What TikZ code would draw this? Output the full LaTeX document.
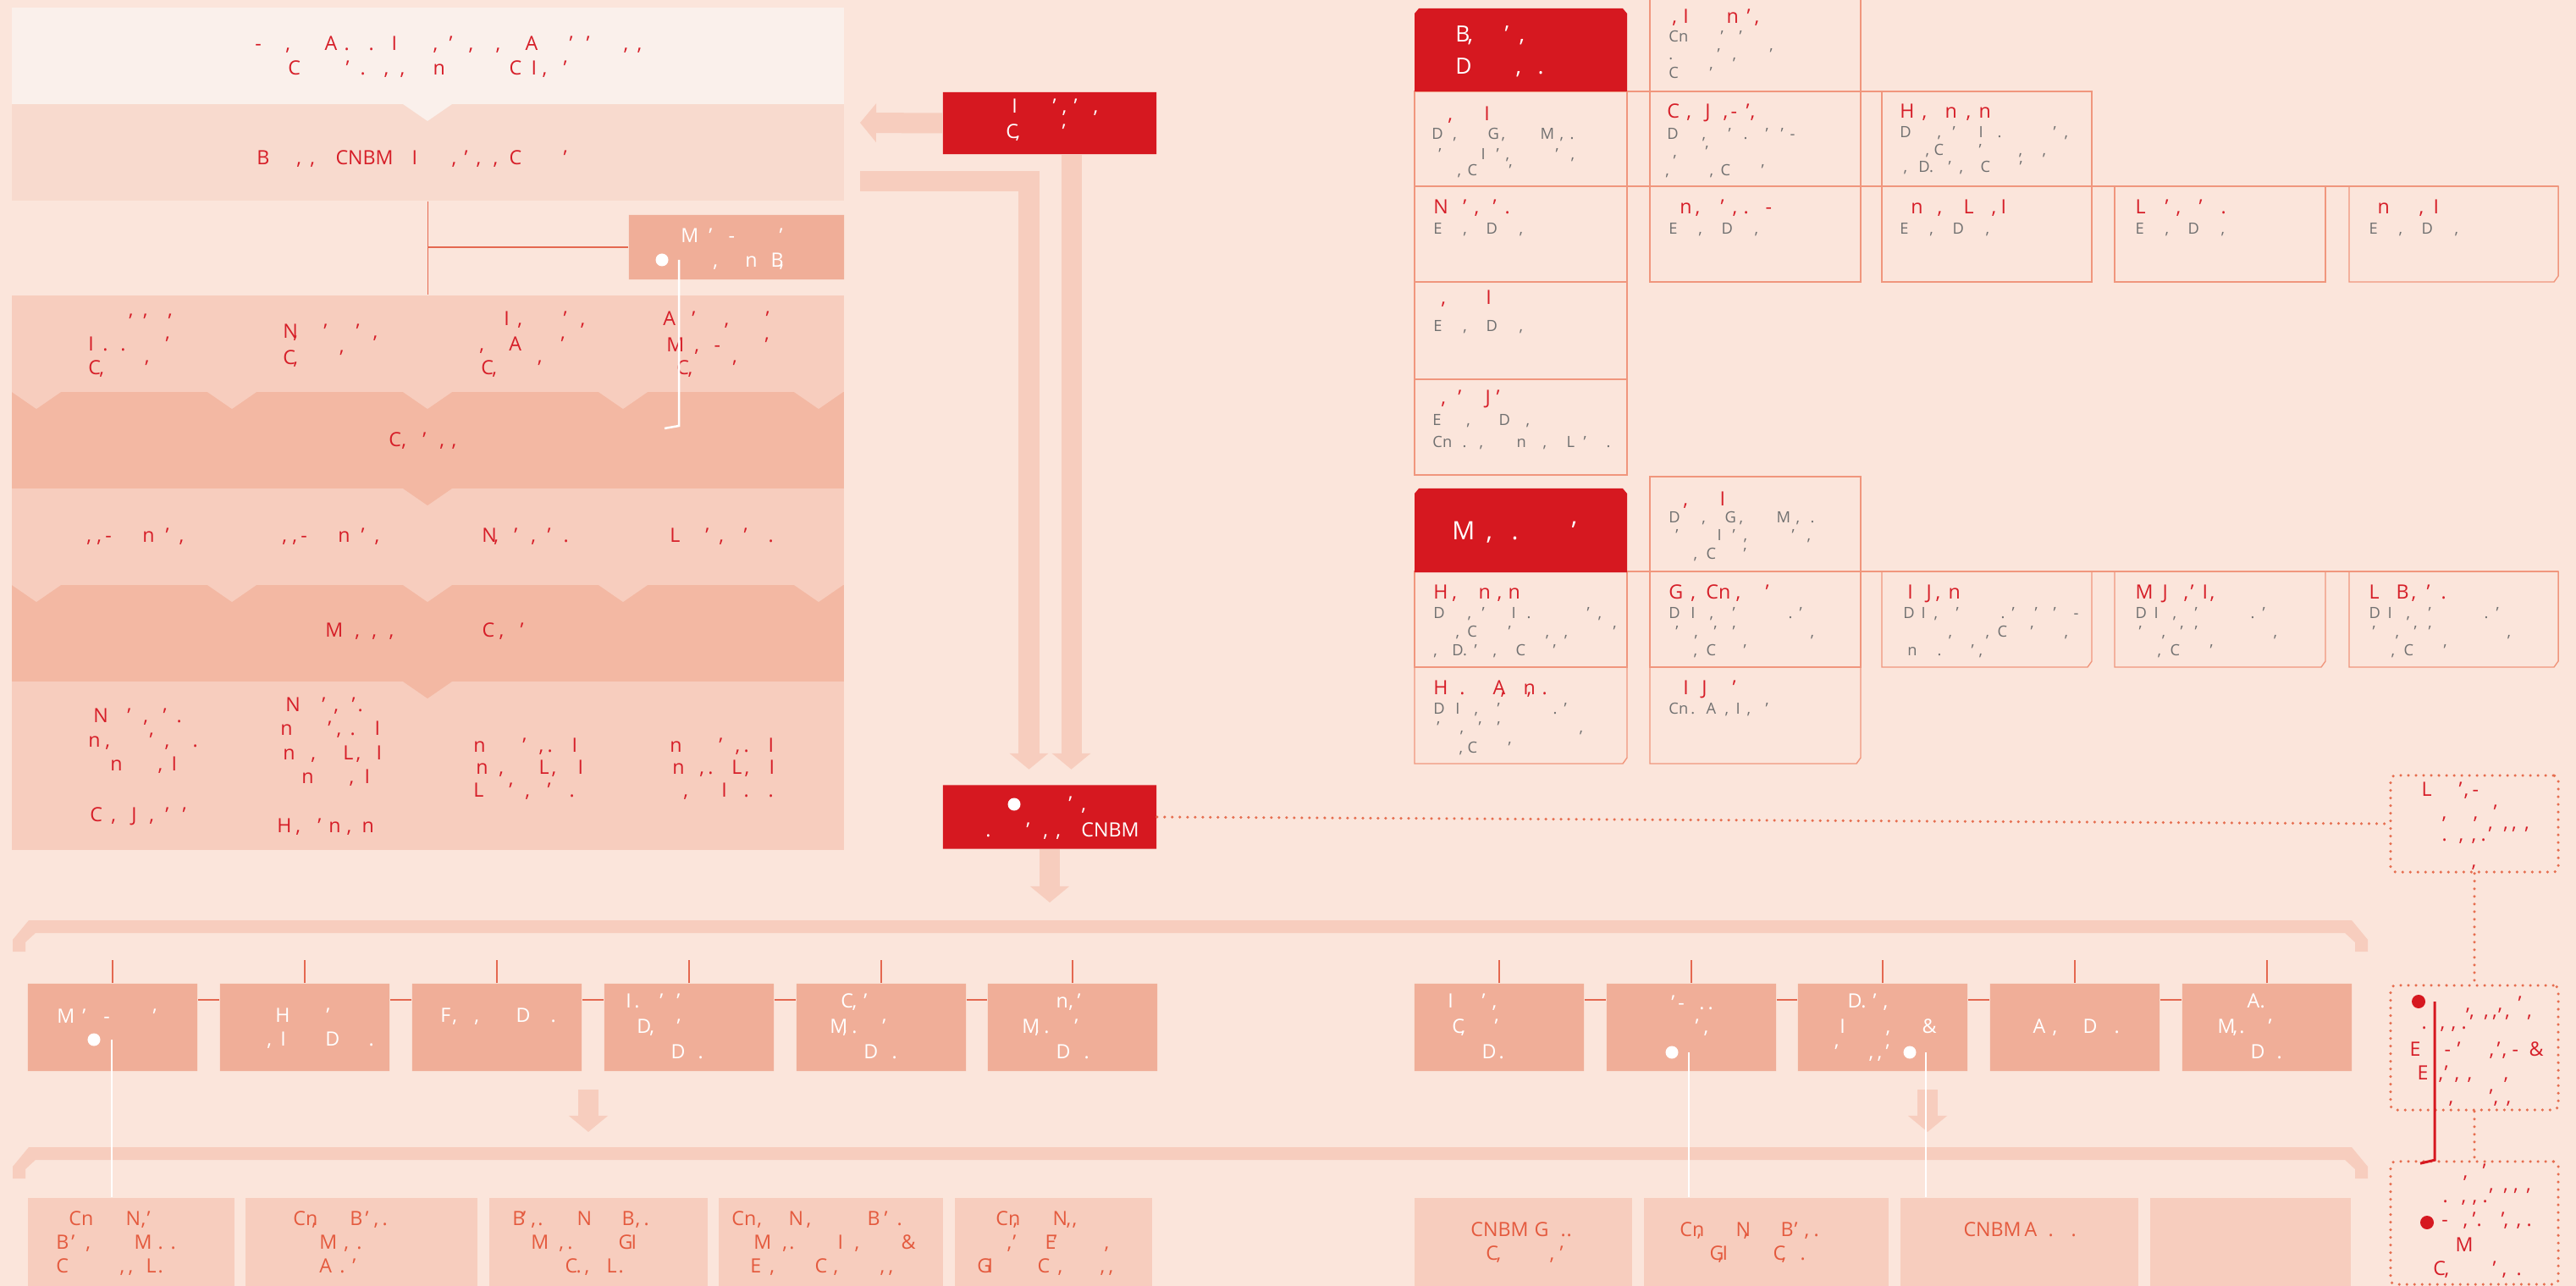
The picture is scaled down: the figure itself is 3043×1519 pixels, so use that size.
\documentclass[tikz,border=0pt]{standalone}
\usepackage{fontspec}
\setmainfont{Open Sans}
\usetikzlibrary{arrows.meta,shapes.misc}

\definecolor{bgC}{RGB}{251,229,219}
\definecolor{bandA}{RGB}{250,240,235}
\definecolor{bandB}{RGB}{248,218,206}
\definecolor{bandL}{RGB}{247,205,190}
\definecolor{bandD}{RGB}{243,184,163}
\definecolor{boxS}{RGB}{240,174,152}
\definecolor{redC}{RGB}{214,24,32}
\definecolor{redT}{RGB}{214,30,40}
\definecolor{grayT}{RGB}{112,112,112}
\definecolor{salT}{RGB}{228,90,62}
\definecolor{tickC}{RGB}{228,104,80}
\definecolor{gridC}{RGB}{240,150,125}
\definecolor{dotC}{RGB}{230,110,80}

% text fragments placed at (dx,dy) from the node origin, in cm
\newcommand\cma{,}
\newcommand\frg[3]{\unskip\makebox[0pt][l]{\hspace{#1cm}\raisebox{-#2cm}[0pt][0pt]{#3}}\ignorespaces}
\newcommand\fline[2]{\foreach \fx/\ft in {#2}{\frg{\fx}{#1}{\ft}}}

\tikzset{
  band/.style={rectangle, fill=#1, draw=none, minimum width=9.83cm, inner sep=0pt},
  sbox/.style={chamfered rectangle, chamfered rectangle sep=0.05cm, fill=boxS, draw=none,
    minimum width=2cm, minimum height=1.03cm, inner sep=0pt},
  lbox/.style={rectangle, fill=bandL, draw=none, minimum height=1.15cm, inner sep=0pt},
  rbox/.style={chamfered rectangle, chamfered rectangle sep=0.05cm, fill=redC, draw=none,
    minimum width=2.52cm, minimum height=0.73cm, inner sep=0pt},
  dotl/.style={draw=dotC, line width=0.035cm, dash pattern=on 0pt off 0.09cm, line cap=round},
  dbox/.style={rectangle, rounded corners=0.06cm, dotl, minimum width=1.98cm, inner sep=0pt},
  tick/.style={draw=tickC, line width=0.012cm},
  gline/.style={draw=gridC, line width=0.014cm},
  fat/.style={draw=bandL, line width=0.24cm, -{Triangle[width=0.45cm,length=0.19cm]}},
  wline/.style={draw=white, line width=0.025cm},
  rline/.style={draw=redC, line width=0.03cm},
  wdot/.style={circle, fill=white, minimum size=0.15cm, inner sep=0pt},
  rdot/.style={circle, fill=redC, minimum size=0.16cm, inner sep=0pt},
  frag/.style={inner sep=0pt, anchor=base west},
  rtx/.style={frag, text=redT, font=\fontsize{6.6}{8}\selectfont},
  gtx/.style={frag, text=grayT, font=\fontsize{5.2}{6}\selectfont},
  wtx/.style={frag, text=white, font=\fontsize{6.6}{8}\selectfont},
  stx/.style={frag, text=salT, font=\fontsize{6.6}{8}\selectfont},
  htx/.style={frag, text=white, font=\fontsize{7.5}{9}\selectfont},
}

\begin{document}
\begin{tikzpicture}[x=0.01cm, y=-0.01cm]
  \useasboundingbox (0,0) rectangle (3043,1519);
  \fill[bgC] (0,0) rectangle (3043,1519);

  % left panel
  \node[band=bandA, minimum height=1.14cm] (p1) at (505.5,66) {};
  \node[band=bandB, minimum height=1.14cm] (p2) at (505.5,180) {};
  \node[band=bandL, minimum height=1.14cm] (p3) at (505.5,406) {};
  \node[band=bandD, minimum height=1.14cm] (p4) at (505.5,520) {};
  \node[band=bandL, minimum height=1.14cm] (p5) at (505.5,634) {};
  \node[band=bandD, minimum height=1.14cm] (p6) at (505.5,748) {};
  \node[band=bandL, minimum height=1.99cm] (p7) at (505.5,904.5) {};
  \fill[bandA] (476,123) -- (534,123) -- (505,143) -- cycle;
  \foreach \x in {43,274,505,736,967} {
    \fill[bandL] (\x-29,463) -- (\x+29,463) -- (\x,483) -- cycle;
    \fill[bandL] (\x-29,691) -- (\x+29,691) -- (\x,711) -- cycle;
  }
  \fill[bandD] (476,577) -- (534,577) -- (505,597) -- cycle;
  \fill[bandD] (476,805) -- (534,805) -- (505,825) -- cycle;

  \node[sbox, minimum width=2.54cm, minimum height=0.76cm] (mbox) at (870,292) {};
  \draw[tick] (p2.south) -- (p3.north);
  \draw[tick] (p2.south |- mbox.west) -- (mbox.west);

  \node[rtx] (t1) at (298,60) {\fline{0}{0.01/-,0.37/\cma,0.83/A,1.06/.,1.35/.,1.62/I,2.11/\cma,2.30/',2.53/\cma,2.85/\cma,3.20/A,3.72/',3.92/',4.36/\cma,4.52/\cma}\fline{0.28}{0.40/C,1.08/',1.25/.,1.53/\cma,1.72/\cma,2.11/n,3.01/C,3.27/I,3.40/\cma,3.65/'}};
  \node[rtx] (t2) at (301,195) {\fline{0}{0/B,0.47/\cma,0.63/\cma,0.93/CNBM,1.83/I,2.30/\cma,2.45/',2.59/\cma,2.79/\cma,2.98/C,3.62/'}};
  \node[wtx] (mt) at (802,287) {\fline{0}{0/M,0.33/',0.56/-,1.16/'}\fline{0.28}{0.38/\cma,0.76/n,1.06/B,1.16/\cma}};
  \node[wdot] (mdot) at (782,307) {};
  \node[rtx] (c31) at (102,415) {\fline{-0.27}{0.48/',0.65/',0.94/'}\fline{0}{0/I,0.17/.,0.38/.,0.91/'}\fline{0.27}{0/C,0.13/\cma,0.67/'}};
  \node[rtx] (c32) at (332,400) {\fline{0}{0/N,0.12/\cma,0.48/',0.86/',1.06/\cma}\fline{0.30}{0/C,0.12/\cma,0.67/'}};
  \node[rtx] (c33) at (566,415) {\fline{-0.30}{0.27/I,0.43/\cma,0.97/',1.17/\cma}\fline{0}{-0.02/\cma,0.33/A,0.94/'}\fline{0.27}{0/C,0.13/\cma,0.67/'}};
  \node[rtx] (c34) at (781,385) {\fline{0}{0/A,0.34/',0.72/\cma,1.21/'}\fline{0.30}{0.04/M,0.37/\cma,0.60/-,1.20/'}\fline{0.57}{0.16/C,0.29/\cma,0.82/'}};
  \node[rtx] (c4) at (457,528) {\fline{0}{0/C,0.15/\cma,0.40/',0.60/\cma,0.74/\cma}};
  \foreach \x/\n in {100/c51,331/c52}
    \node[rtx] (\n) at (\x,640) {\fline{0}{0/\cma,0.12/\cma,0.22/-,0.66/n,0.93/',1.09/\cma}};
  \node[rtx] (c53) at (567,640) {\fline{0}{0/N,0.14/\cma,0.38/',0.58/\cma,0.77/',0.96/.}};
  \node[rtx] (c54) at (789,640) {\fline{0}{0/L,0.42/',0.58/\cma,0.87/',1.16/.}};
  \node[rtx] (c6) at (382,752) {\fline{0}{0/M,0.35/\cma,0.55/\cma,0.75/\cma,1.85/C,2.05/\cma,2.30/'}};
  \node[rtx] (c71) at (104,853) {\fline{0}{0.04/N,0.44/',0.63/\cma,0.86/',1.02/.}\fline{0.29}{-0.02/n,0.18/\cma,0.70/',0.88/\cma,1.21/.}\fline{0.57}{0.24/n,0.80/\cma,0.96/I}\fline{1.17}{0/C,0.25/\cma,0.49/J,0.70/\cma,0.89/',1.09/'}};
  \node[rtx] (c72) at (325,840) {\fline{0}{0.10/N,0.53/',0.67/\cma,0.88/',0.95/.}\fline{0.28}{0.04/n,0.60/',0.70/\cma,0.86/.,1.15/I}\fline{0.57}{0.07/n,0.40/\cma,0.78/L,0.93/\cma,1.17/I}\fline{0.85}{0.29/n,0.85/\cma,1.03/I}\fline{1.43}{0/H,0.22/\cma,0.48/',0.61/n,0.82/\cma,1.00/n}};
  \node[rtx] (c73) at (557,888) {\fline{0}{0/n,0.58/',0.77/\cma,0.87/.,1.16/I}\fline{0.26}{0.03/n,0.30/\cma,0.77/L,0.92/\cma,1.23/I}\fline{0.53}{0/L,0.42/',0.61/\cma,0.87/',1.13/.}};
  \node[rtx] (c74) at (789,888) {\fline{0}{0/n,0.58/',0.77/\cma,0.87/.,1.16/I}\fline{0.26}{0.03/n,0.35/\cma,0.45/.,0.73/L,0.88/\cma,1.17/I}\fline{0.53}{0.16/\cma,0.61/I,0.87/.,1.16/.}};

  % middle column
  \node[rbox] (rtop) at (1240,145.5) {};
  \node[rbox, minimum height=0.75cm] (rbot) at (1240,965) {};
  \coordinate (pin) at (1016,145);
  \coordinate (pout) at (1016,214);
  \coordinate (rdown) at (1240,1066);
  \draw[fat] (rtop.west) -- (pin);
  \draw[fat, shorten >=0.18cm] (pout) -| ([xshift=-0.245cm]rbot.north);
  \draw[fat, shorten >=0.18cm] ([xshift=0.255cm]rtop.south) -- ([xshift=0.255cm]rbot.north);
  \draw[fat] (rbot.south) -- (rdown);
  \node[wtx] (rtt) at (1186,164) {\fline{-0.30}{0.07/I,0.55/',0.66/\cma,0.80/',1.03/\cma}\fline{0}{0/C,0.11/\cma,0.66/'}};
  \node[wdot] (bdot) at (1198,950) {};
  \node[wtx] (rbt) at (1275,988) {\fline{-0.30}{-0.15/',0.0/\cma}\fline{0}{-1.13/.,-0.65/',-0.45/\cma,-0.30/\cma,0/CNBM}};

  % right grid, first block
  \draw[gline] (1949,-5) rectangle (2198,108);
  \draw[gline] (1671,108) -- (2471,108);
  \draw[gline] (1671,220) -- (3022,220);
  \foreach \xa/\xb in {1671/1922,1949/2198,2223/2471}
    \draw[gline] (\xa,108) rectangle (\xb,220);
  \foreach \xa/\xb in {1671/1922,1949/2198,2223/2471,2498/2747}
    \draw[gline] (\xa,220) rectangle (\xb,333);
  \draw[gline] (2775,220) -- (3022,220) -- (3022,326) -- (3017,333) -- (2775,333) -- cycle;
  \draw[gline] (1671,333) rectangle (1922,448);
  \draw[gline] (1671,448) rectangle (1922,561);
  \fill[redC] (1671,108) -- (1671,16) -- (1676,10) -- (1917,10) -- (1922,16) -- (1922,108) -- cycle;

  \node[htx] (h1t) at (1717,50) {\fline{0}{0/B,0.14/\cma,0.58/',0.75/\cma}\fline{0.37}{0/D,0.71/\cma,0.97/.}};
  \node[rtx] (g01r) at (1969,28) {\fline{0}{0.04/\cma,0.17/I,0.68/n,0.92/',1.01/\cma}};
  \node[gtx] (g01g) at (1969,50) {\fline{0}{0/Cn,0.61/',0.83/'}\fline{0.20}{0/.,0.57/',0.75/\cma,1.19/'}\fline{0.42}{0/C,0.48/'}};
  \node[rtx] (g10r) at (1708,143) {\fline{0}{0/\cma,0.43/I}};
  \node[gtx] (g10g) at (1689,165) {\fline{0}{0/D,0.25/\cma,0.66/G,0.82/\cma,1.28/M,1.51/\cma,1.63/.}\fline{0.23}{0.08/',0.58/I,0.76/',0.87/\cma,1.46/',1.64/\cma}\fline{0.42}{0.30/\cma,0.42/C,0.91/'}};
  \node[rtx] (g11r) at (1967,140) {\fline{0}{0/C,0.23/\cma,0.45/J,0.66/\cma,0.75/-,0.93/',0.98/\cma}};
  \node[gtx] (g11g) at (1967,165) {\fline{0}{0/D,0.41/\cma,0.72/',0.90/.,1.16/',1.34/',1.45/-}\fline{0.20}{0.07/\cma,0.45/'}\fline{0.42}{-0.02/\cma,0.50/\cma,0.63/C,1.11/'}};
  \node[rtx] (g12r) at (2242,140) {\fline{0}{0/H,0.26/\cma,0.53/n,0.78/\cma,0.93/n}};
  \node[gtx] (g12g) at (2242,163) {\fline{0}{0/D,0.44/\cma,0.62/',0.93/I,1.15/.,1.81/',1.94/\cma}\fline{0.20}{0.30/\cma,0.40/C,0.93/',1.40/\cma,1.68/\cma}\fline{0.40}{0.04/\cma,0.22/D.,0.57/',0.70/\cma,0.95/C,1.41/'}};
  \node[rtx] (g20r) at (1691,253) {\fline{0}{0/N,0.35/',0.48/\cma,0.70/',0.84/.}};
  \node[rtx] (g21r) at (1982,253) {\fline{0}{0/n,0.18/\cma,0.48/',0.62/\cma,0.75/.,1.01/-}};
  \node[rtx] (g22r) at (2255,253) {\fline{0}{0/n,0.31/\cma,0.62/L,0.95/\cma,1.06/I}};
  \node[rtx] (g23r) at (2520,253) {\fline{0}{0/L,0.35/',0.48/\cma,0.75/',1.01/.}};
  \node[rtx] (g24r) at (2806,253) {\fline{0}{0/n,0.49/\cma,0.66/I}};
  \foreach \x/\y/\n in {1691/277/g20g,1969/277/g21g,2242/277/g22g,2520/277/g23g,2796/277/g24g,1691/392/g30g}
    \node[gtx] (\n) at (\x,\y) {\fline{0}{0/E,0.35/\cma,0.62/D,1.01/\cma}};
  \node[rtx] (g30r) at (1700,360) {\fline{0}{0/\cma,0.53/I}};
  \node[rtx] (g40r) at (1700,478) {\fline{0}{0/\cma,0.20/',0.52/J,0.65/'}};
  \node[gtx] (g40g) at (1690,503) {\fline{0}{0/E,0.40/\cma,0.78/D,1.10/\cma}\fline{0.25}{0/Cn,0.35/.,0.55/\cma,0.99/n,1.30/\cma,1.58/L,1.78/',2.05/.}};

  % right grid, second block
  \draw[gline] (1949,563) rectangle (2198,675);
  \draw[gline] (1671,675) -- (3022,675);
  \foreach \xa/\xb in {1671/1922,1949/2198}
    \draw[gline] (\xa,675) rectangle (\xb,788);
  \foreach \xa/\xb in {2223/2471,2498/2747,2775/3022}
    \draw[gline] (\xa,675) -- (\xb,675) -- (\xb,781) -- (\xb-5,788) -- (\xa,788) -- cycle;
  \foreach \xa/\xb in {1671/1922,1949/2198}
    \draw[gline] (\xa,788) -- (\xb,788) -- (\xb,895) -- (\xb-5,902) -- (\xa,902) -- cycle;
  \fill[redC] (1671,676) -- (1671,583) -- (1676,577) -- (1917,577) -- (1922,583) -- (1922,676) -- cycle;

  \node[htx, font=\fontsize{8.5}{10}\selectfont] (h2t) at (1713,637) {\fline{0}{0/M,0.40/\cma,0.70/.,1.41/'}};
  \node[rtx] (k01r) at (1986,598) {\fline{0}{0/\cma,0.43/I}};
  \node[gtx] (k01g) at (1969,617) {\fline{0}{0/D,0.39/\cma,0.66/G,0.83/\cma,1.27/M,1.50/\cma,1.67/.}\fline{0.21}{0.08/',0.57/I,0.75/',0.88/\cma,1.45/',1.63/\cma}\fline{0.43}{0.29/\cma,0.44/C,0.88/'}};
  \node[rtx] (k10r) at (1691,707) {\fline{0}{0/H,0.22/\cma,0.53/n,0.75/\cma,0.88/n}};
  \node[gtx] (k10g) at (1691,730) {\fline{0}{0/D,0.40/\cma,0.57/',0.92/I,1.10/.,1.81/',1.94/\cma}\fline{0.22}{0.26/\cma,0.40/C,0.88/',1.32/\cma,1.54/\cma,2.12/'}\fline{0.44}{0/\cma,0.22/D.,0.48/',0.70/\cma,0.97/C,1.41/'}};
  \node[rtx] (k11r) at (1969,707) {\fline{0}{0/G,0.26/\cma,0.44/Cn,0.79/\cma,1.14/'}};
  \node[gtx] (k11g) at (1969,730) {\fline{0}{0/D,0.26/I,0.48/\cma,0.75/',1.41/.,1.54/'}\fline{0.22}{0.08/',0.30/\cma,0.53/',0.75/',1.67/\cma}\fline{0.44}{0.29/\cma,0.44/C,0.88/'}};
  \node[rtx] (k12r) at (2251,707) {\fline{0}{0/I,0.22/J,0.33/\cma,0.48/n}};
  \node[gtx] (k12g) at (2246,730) {\fline{0}{0/D,0.21/I,0.36/\cma,0.62/',1.15/.,1.28/',1.55/',1.77/',2.01/-}\fline{0.22}{0.53/\cma,0.97/\cma,1.11/C,1.50/',1.90/\cma}\fline{0.44}{0.05/n,0.40/.,0.80/',0.89/\cma}};
  \node[rtx] (k13r) at (2520,707) {\fline{0}{0/M,0.32/J,0.57/\cma,0.65/',0.79/I,0.88/\cma}};
  \node[rtx] (k14r) at (2796,707) {\fline{0}{0/L,0.32/B,0.50/\cma,0.68/',0.85/.}};
  \foreach \x/\n in {2520/k13g,2796/k14g}
    \node[gtx] (\n) at (\x,730) {\fline{0}{0/D,0.22/I,0.44/\cma,0.70/',1.36/.,1.50/'}\fline{0.22}{0.04/',0.31/\cma,0.53/',0.70/',1.63/\cma}\fline{0.44}{0.26/\cma,0.41/C,0.88/'}};
  \node[rtx] (k20r) at (1691,820) {\fline{0}{0/H,0.31/.,0.70/A,0.79/\cma,1.06/n,1.10/\cma,1.28/.}};
  \node[gtx] (k20g) at (1691,843) {\fline{0}{0/D,0.26/I,0.48/\cma,0.75/',1.41/.,1.54/'}\fline{0.22}{0.04/',0.31/\cma,0.53/',0.75/',1.72/\cma}\fline{0.46}{0.30/\cma,0.40/C,0.88/'}};
  \node[rtx] (k21r) at (1986,820) {\fline{0}{0/I,0.22/J,0.58/'}};
  \node[gtx] (k21g) at (1969,843) {\fline{0}{0/Cn,0.26/.,0.44/A,0.66/\cma,0.79/I,0.92/\cma,1.14/'}};

  % bottom brackets and boxes
  \foreach \yb in {1087,1355}
    \fill[bandL] (15,\yb+37) -- (15,\yb+23) -- (34,\yb) -- (2778,\yb) -- (2797,\yb+23) -- (2797,\yb+37)
      -- (2782,\yb+37) -- (2782,\yb+26) -- (2770,\yb+15) -- (42,\yb+15) -- (30,\yb+26) -- (30,\yb+37) -- cycle;

  \foreach \x [count=\i] in {133,360,587,814,1041,1267}
    \node[sbox] (m\i) at (\x,1213.5) {};
  \foreach \x [count=\i] in {1771,1998,2224,2451,2678}
    \node[sbox] (n\i) at (\x,1213.5) {};
  \foreach \n in {m1,m2,m3,m4,m5,m6,n1,n2,n3,n4,n5}
    \draw[tick] (\n.north) -- ++(0,-27);
  \foreach \a/\b in {m1/m2,m2/m3,m3/m4,m4/m5,m5/m6,n1/n2,n2/n3,n3/n4,n4/n5}
    \draw[tick] ([yshift=0.325cm]\a.east) -- ([yshift=0.325cm]\b.west);

  \foreach \x/\w/\n in {155/2.44/lb1,427/2.74/lb2,707/2.58/lb3,981.5/2.65/lb4,1244.5/2.33/lb5,
      1799.5/2.57/rb1,2086.5/2.89/rb2,2385.5/2.81/rb3,2658.5/2.37/rb4}
    \node[lbox, minimum width=\w cm] (\n) at (\x,1472.5) {};

  \coordinate (la1) at (695,1287);
  \coordinate (la2) at (695,1337);
  \coordinate (ra1) at (2277,1287);
  \coordinate (ra2) at (2277,1337);
  \draw[fat] (la1) -- (la2);
  \draw[fat] (ra1) -- (ra2);

  \node[wtx] (m1t) at (65,1208) {\fline{0}{0/M,0.30/',0.55/-,1.13/'}};
  \node[wdot] (d1) at (111,1228) {};
  \node[wtx] (m2t) at (323,1207) {\fline{0}{0/H,0.60/'}\fline{0.28}{-0.10/\cma,0.06/I,0.59/D,1.10/.}};
  \node[wtx] (m3t) at (518,1207) {\fline{0}{0/F,0.14/\cma,0.40/\cma,0.89/D,1.30/.}};
  \node[wtx] (m4t) at (737,1190) {\fline{0}{0/I,0.10/.,0.40/',0.60/'}\fline{0.30}{0.13/D,0.28/\cma,0.60/'}\fline{0.60}{0.53/D,0.85/.}};
  \node[wtx] (m5t) at (978,1190) {\fline{0}{0.13/C,0.26/\cma,0.40/'}\fline{0.30}{0/M,0.15/\cma,0.26/.,0.62/'}\fline{0.60}{0.40/D,0.73/.}};
  \node[wtx] (m6t) at (1205,1190) {\fline{0}{0.40/n,0.55/\cma,0.65/'}\fline{0.30}{0/M,0.15/\cma,0.26/.,0.62/'}\fline{0.60}{0.40/D,0.73/.}};
  \node[wtx] (n1t) at (1708,1190) {\fline{0}{0/I,0.40/',0.52/\cma}\fline{0.30}{0.05/C,0.15/\cma,0.55/'}\fline{0.60}{0.40/D,0.60/.}};
  \node[wtx] (n2t) at (1970,1192) {\fline{0}{0.02/',0.10/-,0.35/.,0.45/.}\fline{0.28}{0.30/',0.40/\cma}};
  \node[wdot] (d2) at (1975,1243) {};
  \node[wtx] (n3t) at (2170,1190) {\fline{0}{0.10/D.,0.40/',0.52/\cma}\fline{0.30}{0.01/I,0.55/\cma,0.98/\&}\fline{0.60}{-0.05/',0.35/\cma,0.45/\cma,0.55/'}};
  \node[wdot] (d3) at (2256,1243) {};
  \node[wtx] (n4t) at (2399,1220) {\fline{0}{0/A,0.23/\cma,0.59/D,0.96/.}};
  \node[wtx] (n5t) at (2617,1190) {\fline{0}{0.35/A,0.50/.}\fline{0.30}{0/M,0.18/\cma,0.26/.,0.60/'}\fline{0.60}{0.39/D,0.70/.}};

  \coordinate (w0) at ([xshift=0.20cm]mdot.center);
  \coordinate (w1) at ([xshift=0.21cm]d1.center);
  \coordinate (w2) at ([xshift=0.20cm]d2.center);
  \coordinate (w3) at ([xshift=0.19cm]d3.center);
  \draw[wline] (w0) -- ++(0,196) -- ++(-17,3);
  \draw[wline] (w1) -- (w1 |- lb1.north);
  \draw[wline] (w2) -- (w2 |- rb2.north);
  \draw[wline] (w3) -- (w3 |- rb3.north);

  \node[stx] (l1t) at (64,1447) {\fline{0}{0.15/Cn,0.82/N,1.00/\cma,1.07/'}\fline{0.28}{0/B,0.18/',0.35/\cma,0.92/M,1.20/.,1.35/.}\fline{0.56}{0/C,0.75/\cma,0.85/\cma,1.06/L,1.20/.}};
  \node[stx] (l2t) at (344,1447) {\fline{0}{0/Cn,0.22/\cma,0.67/B,0.85/',0.95/\cma,1.05/.}\fline{0.28}{0.31/M,0.60/\cma,0.75/.}\fline{0.56}{0.31/A,0.55/.,0.70/'}};
  \node[stx] (l3t) at (603,1447) {\fline{0}{0/B,0.12/',0.22/\cma,0.30/.,0.76/N,1.29/B,1.45/\cma,1.55/.}\fline{0.28}{0.22/M,0.55/\cma,0.65/.,1.25/G,1.40/I}\fline{0.56}{0.62/C,0.75/.,0.85/\cma,1.11/L,1.25/.}};
  \node[stx] (l4t) at (862,1447) {\fline{0}{0/Cn,0.30/\cma,0.67/N,0.88/\cma,1.60/B,1.80/',1.95/.}\fline{0.28}{0.26/M,0.60/\cma,0.68/.,1.25/I,1.45/\cma,2.00/\&}\fline{0.56}{0.22/E,0.45/\cma,0.98/C,1.20/\cma,1.75/\cma,1.85/\cma}};
  \node[stx] (l5t) at (1152,1447) {\fline{0}{0.22/Cn,0.42/\cma,0.89/N,1.05/\cma,1.12/\cma}\fline{0.28}{0.35/\cma,0.42/',0.80/E,0.90/',1.50/\cma}\fline{0.56}{0/G,0.12/I,0.71/C,0.95/\cma,1.45/\cma,1.55/\cma}};
  \node[stx] (r1t) at (1735,1460) {\fline{0}{0/CNBM,0.75/G,1.06/.,1.13/.}\fline{0.28}{0.18/C,0.30/\cma,0.93/\cma,1.05/'}};
  \node[stx] (r2t) at (1982,1460) {\fline{0}{0/Cn,0.20/\cma,0.66/N,0.75/\cma,1.19/B,1.35/',1.47/\cma,1.58/.}\fline{0.28}{0.35/G,0.45/\cma,0.50/I,1.10/C,1.20/\cma,1.42/.}};
  \node[stx] (r3t) at (2317,1460) {\fline{0}{0/CNBM,0.72/A,1.00/.,1.27/.}};

  % dotted side boxes
  \node[dbox, minimum height=1.14cm] (dA) at (2923,973) {};
  \node[dbox, minimum height=1.47cm] (dB) at (2923,1237.5) {};
  \node[dbox, minimum height=1.45cm] (dC) at (2923,1444.5) {};
  \draw[dotl] (rbot.east) -- (dA.west);
  \draw[dotl] (dA.south) -- (dB.north);
  \draw[dotl] (dB.south) -- (dC.north);
  \node[rdot] (edot) at (2857,1183) {};
  \node[rdot] (cdot) at (2867,1444) {};
  \coordinate (e1) at ([xshift=0.19cm]edot.center);
  \draw[rline] (e1) -- (e1 |- dC.north) -- ++(-17,4);
  \node[rtx] (dat) at (2858,940) {\fline{0}{0/L,0.44/',0.50/\cma,0.60/-}\fline{0.27}{0.24/\cma,0.61/\cma,0.85/'}\fline{0.53}{0.24/.,0.44/\cma,0.59/\cma,0.70/.,0.79/',0.97/',1.07/',1.22/'}\fline{0.84}{0.59/\cma}};
  \node[rtx] (dbt) at (2844,1247) {\fline{-0.53}{0.66/\cma,1.04/\cma,1.28/'}\fline{-0.31}{0.14/.,0.36/\cma,0.49/\cma,0.61/.,0.71/',0.88/',0.98/',1.13/',1.39/'}\fline{0}{0/E,0.41/-,0.56/',0.94/\cma,1.03/',1.09/\cma,1.21/-,1.41/\&}\fline{0.28}{0.09/E,0.34/\cma,0.41/',0.53/\cma,0.68/\cma,1.11/\cma}\fline{0.56}{0.46/\cma,0.94/',0.99/\cma,1.14/\cma}};
  \node[rtx] (dct) at (2898,1478) {\fline{-0.86}{0.09/\cma,0.32/'}\fline{-0.57}{-0.15/.,0.07/\cma,0.20/\cma,0.32/.,0.40/',0.57/',0.69/',0.84/'}\fline{-0.29}{-0.16/-,0.09/\cma,0.20/',0.25/.,0.54/',0.57/\cma,0.72/\cma,0.84/.}\fline{0}{0/M}\fline{0.28}{-0.26/C,-0.13/\cma,0.44/',0.55/\cma,0.72/.}};
\end{tikzpicture}
\end{document}
